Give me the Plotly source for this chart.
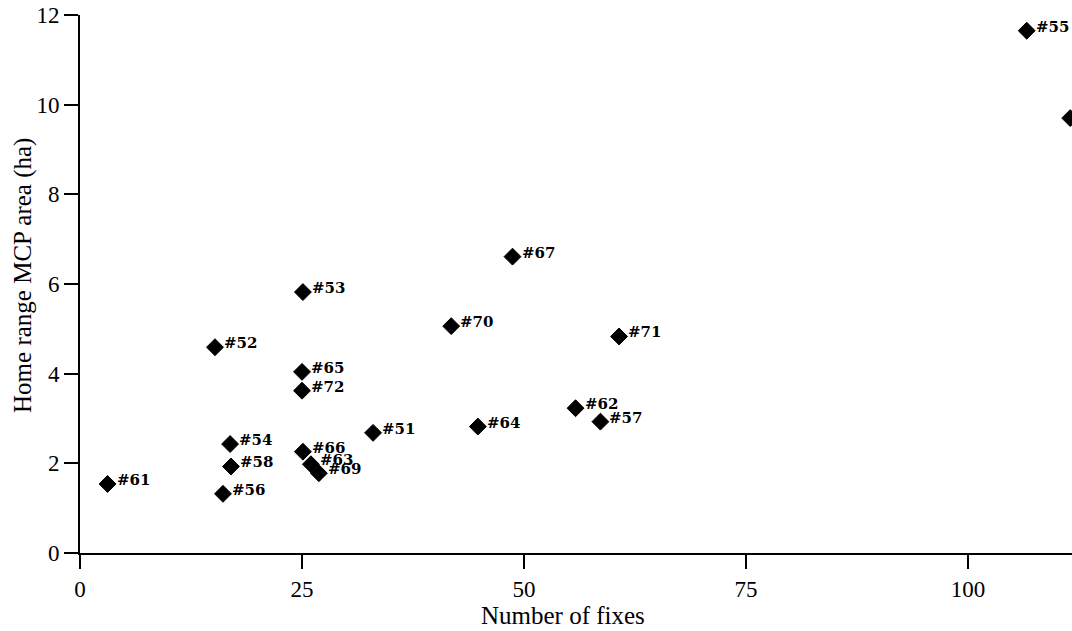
import plotly.graph_objects as go

fixes = [3.1, 16.1, 17.0, 16.9, 15.2, 25.1, 26.0, 26.9, 25.0, 25.0, 25.1, 33.0, 41.8, 44.8, 48.7, 55.8, 58.6, 60.7, 106.6, 111.5]
area = [1.54, 1.32, 1.93, 2.43, 4.59, 2.26, 1.98, 1.78, 3.62, 4.04, 5.82, 2.68, 5.06, 2.82, 6.61, 3.23, 2.93, 4.83, 11.65, 9.70]
labels = ["#61", "#56", "#58", "#54", "#52", "#66", "#63", "#69", "#72", "#65", "#53", "#51",
          "#70", "#64", "#67", "#62", "#57", "#71", "#55", ""]

x_ticks = [0, 25, 50, 75, 100]
y_ticks = [0, 2, 4, 6, 8, 10, 12]

serif = "Liberation Serif, Times New Roman, serif"
label_font = "DejaVu Serif, serif"

fig = go.Figure()
fig.add_trace(go.Scatter(
    x=fixes, y=area, mode="markers",
    marker=dict(symbol="diamond", size=13, color="black", line=dict(width=1, color="black")),
    showlegend=False,
))

point_labels = [
    dict(text=lab, x=xv, y=yv, xref="x", yref="y", xanchor="left", yanchor="middle",
         xshift=7, yshift=4, showarrow=False,
         font=dict(family=label_font, size=15, color="black", weight="bold"))
    for xv, yv, lab in zip(fixes, area, labels) if lab
]

fig.update_layout(
    width=1072, height=631,
    margin=dict(l=80, r=0, t=15, b=78),
    paper_bgcolor="white", plot_bgcolor="white",
    font=dict(family=serif, size=23, color="black"),
    xaxis=dict(range=[0, 111.7], tickvals=x_ticks, ticks="outside", ticklen=14, tickwidth=2,
               tickcolor="black", showline=True, linewidth=2, linecolor="black",
               showgrid=False, zeroline=False, tickfont=dict(size=23),
               ticklabeloverflow="allow", automargin=False),
    yaxis=dict(range=[0, 12], tickvals=y_ticks, ticks="outside", ticklen=14, tickwidth=2,
               tickcolor="black", showline=True, linewidth=2, linecolor="black",
               showgrid=False, zeroline=False, tickfont=dict(size=23),
               ticklabeloverflow="allow", automargin=False),
    annotations=point_labels + [
        dict(text="Number of fixes", xref="paper", yref="paper", x=0.5, y=0, xshift=-13, yshift=-62,
             showarrow=False, xanchor="center", yanchor="middle", font=dict(size=25)),
        dict(text="Home range MCP area (ha)", xref="paper", yref="paper", x=0, y=0.515,
             xshift=-57, textangle=-90, showarrow=False, xanchor="center", yanchor="middle",
             font=dict(size=25)),
    ],
)

fig.write_html(
    "out.html",
    config={"displayModeBar": False},
    post_script="document.body.style.margin='0';document.body.style.overflow='hidden';",
)
